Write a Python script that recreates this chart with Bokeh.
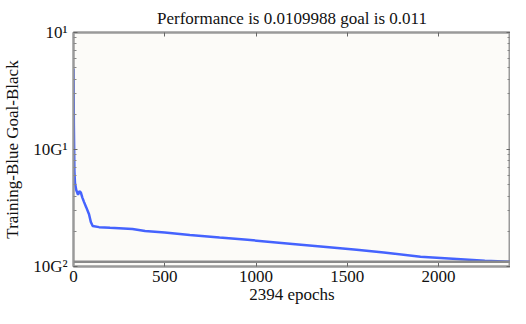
from bokeh.plotting import figure
from bokeh.models import (LinearAxis, LogAxis, FixedTicker, Span, Range1d)
from bokeh.embed import file_html
from bokeh.resources import INLINE

# data
epochs = [0, 1, 2, 3, 5, 8, 15, 25, 32, 40, 48, 58, 70, 85, 95, 105, 140, 200,
          323, 392, 500, 637, 800, 953, 1200, 1400, 1551, 1700, 1901, 2100, 2253, 2394]
perf = [0.49, 0.30, 0.16, 0.12, 0.065, 0.052, 0.045, 0.041, 0.044, 0.043, 0.039,
        0.0355, 0.032, 0.028, 0.024, 0.0222, 0.0217, 0.0214, 0.0209, 0.0201, 0.0195,
        0.0186, 0.0177, 0.0169, 0.0156, 0.0146, 0.0139, 0.0132, 0.0121, 0.0116,
        0.0112, 0.0110]
goal = 0.011
x_ticks = [0, 500, 1000, 1500, 2000]
y_ticks = [0.01, 0.1, 1]
y_tick_labels = ["10G\u00b2", "10G\u00b9", "10\u00b9"]
y_minor = [m * d for d in [0.01, 0.1] for m in range(2, 10)]

FONT = "Liberation Serif"
GRAY = "#9a9a9a"

p = figure(width=510, height=308, output_backend="svg", toolbar_location=None,
           y_axis_type="log", x_range=Range1d(0, 2394), y_range=Range1d(0.01, 1),
           min_border_left=72, min_border_top=32, min_border_bottom=42,
           min_border_right=0,
           title="Performance is 0.0109988 goal is 0.011")
p.title.text_font = FONT
p.title.text_font_size = "17px"
p.title.text_font_style = "normal"
p.title.align = "center"
p.title.text_color = "#111111"

p.background_fill_color = "#fcfbf8"
p.border_fill_color = "white"
p.outline_line_color = GRAY
p.outline_line_width = 2
p.xgrid.visible = False
p.ygrid.visible = False

yt = FixedTicker(ticks=y_ticks, minor_ticks=y_minor)
xt = FixedTicker(ticks=x_ticks)

for ax in p.xaxis:
    ax.ticker = xt
for ax in p.yaxis:
    ax.ticker = yt
    ax.major_label_overrides = {t: l for t, l in zip(y_ticks, y_tick_labels)}


def style(ax, labels=True):
    ax.axis_line_color = GRAY
    ax.axis_line_width = 2
    ax.major_tick_line_color = "#666666"
    ax.major_tick_in = 4
    ax.major_tick_out = 0
    ax.minor_tick_line_color = "#888888"
    ax.minor_tick_in = 3
    ax.minor_tick_out = 0
    ax.major_label_text_font = FONT
    ax.major_label_text_font_size = "17px" if labels else "1px"
    ax.major_label_text_color = "#111111" if labels else None
    ax.axis_label_text_font = FONT
    ax.axis_label_text_font_size = "17px"
    ax.axis_label_text_font_style = "normal"
    ax.axis_label_text_color = "#111111"


p.xaxis.axis_label = "2394 epochs"
p.yaxis.axis_label = "Training-Blue Goal-Black"
style(p.xaxis[0])
style(p.yaxis[0])
p.xaxis[0].minor_tick_line_color = None
p.xaxis[0].major_label_standoff = 4
p.xaxis[0].axis_label_standoff = 0
p.yaxis[0].major_label_standoff = 6
p.yaxis[0].axis_label_standoff = 8

top = LinearAxis(ticker=xt)
style(top, labels=False)
top.minor_tick_line_color = None
top.major_label_standoff = 0
p.add_layout(top, "above")

right = LogAxis(ticker=yt)
style(right, labels=False)
right.major_label_standoff = 0
p.add_layout(right, "right")

p.add_layout(Span(location=goal, dimension="width", line_color="#8a8a8a",
                  line_width=2.5))
p.line(epochs, perf, line_color="#2448ff", line_width=2.5, line_alpha=0.85)

open("out.html", "w").write(file_html(p, INLINE))
